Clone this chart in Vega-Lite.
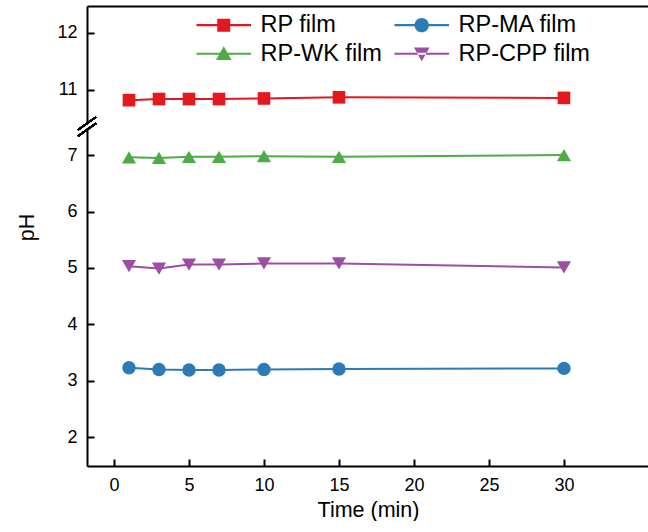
{
  "$schema": "https://vega.github.io/schema/vega-lite/v6.json",
  "background": "white",
  "padding": {"left": 16, "top": 6, "right": 0, "bottom": 0},
  "spacing": 5,
  "bounds": "flush",
  "config": {
    "view": {"stroke": null},
    "font": "Liberation Sans",
    "axis": {
      "grid": false,
      "domainColor": "black",
      "domainWidth": 2,
      "tickColor": "black",
      "tickWidth": 2,
      "tickSize": -7,
      "labelFontSize": 18,
      "labelColor": "black",
      "titleFontSize": 21.5,
      "titleFontWeight": "normal",
      "titleColor": "black"
    }
  },
  "datasets": {
    "ph": [
      {"t": 1, "s": "RP film", "ph": 10.82},
      {"t": 3, "s": "RP film", "ph": 10.84},
      {"t": 5, "s": "RP film", "ph": 10.84},
      {"t": 7, "s": "RP film", "ph": 10.84},
      {"t": 10, "s": "RP film", "ph": 10.85},
      {"t": 15, "s": "RP film", "ph": 10.87},
      {"t": 30, "s": "RP film", "ph": 10.86},
      {"t": 1, "s": "RP-MA film", "ph": 3.23},
      {"t": 3, "s": "RP-MA film", "ph": 3.2},
      {"t": 5, "s": "RP-MA film", "ph": 3.19},
      {"t": 7, "s": "RP-MA film", "ph": 3.19},
      {"t": 10, "s": "RP-MA film", "ph": 3.2},
      {"t": 15, "s": "RP-MA film", "ph": 3.21},
      {"t": 30, "s": "RP-MA film", "ph": 3.22},
      {"t": 1, "s": "RP-WK film", "ph": 6.96},
      {"t": 3, "s": "RP-WK film", "ph": 6.95},
      {"t": 5, "s": "RP-WK film", "ph": 6.97},
      {"t": 7, "s": "RP-WK film", "ph": 6.97},
      {"t": 10, "s": "RP-WK film", "ph": 6.98},
      {"t": 15, "s": "RP-WK film", "ph": 6.97},
      {"t": 30, "s": "RP-WK film", "ph": 7.0},
      {"t": 1, "s": "RP-CPP film", "ph": 5.03},
      {"t": 3, "s": "RP-CPP film", "ph": 4.99},
      {"t": 5, "s": "RP-CPP film", "ph": 5.06},
      {"t": 7, "s": "RP-CPP film", "ph": 5.06},
      {"t": 10, "s": "RP-CPP film", "ph": 5.08},
      {"t": 15, "s": "RP-CPP film", "ph": 5.08},
      {"t": 30, "s": "RP-CPP film", "ph": 5.01}
    ]
  },
  "vconcat": [
    {
      "width": 562,
      "height": 117,
      "data": {"name": "ph"},
      "encoding": {
        "x": {"field": "t", "type": "quantitative", "scale": {"domain": [-1.8, 35.67], "nice": false, "zero": false},
              "axis": {"orient": "top", "labels": false, "ticks": false, "title": null}},
        "y": {"field": "ph", "type": "quantitative", "scale": {"domain": [10.42, 12.47], "nice": false, "zero": false},
              "axis": {"values": [11, 12], "labelPadding": 17, "title": null}}
      },
      "layer": [
        {
          "transform": [{"filter": "datum.s === 'RP film'"}],
          "mark": {"type": "line", "strokeWidth": 2},
          "encoding": {"stroke": {"field": "s", "type": "nominal",
            "scale": {"domain": ["RP-CPP film", "RP-WK film", "RP-MA film", "RP film"], "range": ["#9b4ea3", "#4dac46", "#2c7bb6", "#e3191f"]},
            "legend": null}}
        },
        {
          "transform": [{"filter": "datum.s === 'RP film'"}],
          "mark": {"type": "point", "shape": "square", "filled": true, "size": 160, "color": "#e3191f", "opacity": 1}
        },
        {
          "mark": {"type": "rule", "color": "black", "strokeWidth": 1.5, "clip": false},
          "encoding": {"x": {"datum": -2.4}, "x2": {"datum": -1.2}, "y": {"datum": 10.3}, "y2": {"datum": 10.525}}
        },
        {
          "mark": {"type": "rule", "color": "black", "strokeWidth": 1.5, "clip": false},
          "encoding": {"x": {"datum": -2.4}, "x2": {"datum": -1.2}, "y": {"datum": 10.19}, "y2": {"datum": 10.415}}
        },
        {
          "mark": {"type": "point", "filled": true, "opacity": 1, "clip": true},
          "encoding": {
            "x": {"datum": 100},
            "y": {"datum": 11.5},
            "color": {"field": "s", "type": "nominal",
              "scale": {"domain": ["RP film", "RP-MA film", "RP-WK film", "RP-CPP film"], "range": ["#e3191f", "#2c7bb6", "#4dac46", "#9b4ea3"]},
              "legend": {"orient": "none", "legendX": 125, "legendY": 7, "columns": 2, "direction": "horizontal", "title": null,
                "symbolSize": 169, "symbolStrokeWidth": 0, "symbolOpacity": 1,
                "labelFontSize": 23.5, "labelColor": "black", "labelOffset": 25, "columnPadding": 12, "rowPadding": 4}},
            "shape": {"field": "s", "type": "nominal",
              "scale": {"domain": ["RP film", "RP-MA film", "RP-WK film", "RP-CPP film"],
                "range": [
                  "M-4.2,-0.16H4.2V0.16H-4.2Z M-1,-1H1V1H-1Z",
                  "M-4.2,-0.16H4.2V0.16H-4.2Z M1.1,0A1.1,1.1 0 1,1 -1.1,0A1.1,1.1 0 1,1 1.1,0Z",
                  "M-4.2,-0.16H4.2V0.16H-4.2Z M0,-1.15L1.2,0.95H-1.2Z",
                  "M-4.2,-0.16H4.2V0.16H-4.2Z M0,1.15L1.2,-0.95H-1.2Z"
                ]}}
          }
        }
      ]
    },
    {
      "width": 562,
      "height": 338,
      "data": {"name": "ph"},
      "transform": [{"filter": "datum.s !== 'RP film'"}],
      "encoding": {
        "x": {"field": "t", "type": "quantitative", "scale": {"domain": [-1.8, 35.67], "nice": false, "zero": false},
              "axis": {"values": [0, 5, 10, 15, 20, 25, 30], "labelPadding": 17, "title": "Time (min)", "titlePadding": 5}},
        "y": {"field": "ph", "type": "quantitative", "scale": {"domain": [1.49, 7.48], "nice": false, "zero": false},
              "axis": {"values": [2, 3, 4, 5, 6, 7], "labelPadding": 17, "title": "pH", "titlePadding": 28, "titleY": 99}}
      },
      "layer": [
        {
          "mark": {"type": "line", "strokeWidth": 2},
          "encoding": {"stroke": {"field": "s", "type": "nominal",
            "scale": {"domain": ["RP-CPP film", "RP-WK film", "RP-MA film", "RP film"], "range": ["#9b4ea3", "#4dac46", "#2c7bb6", "#e3191f"]},
            "legend": null}}
        },
        {
          "transform": [{"filter": "datum.s === 'RP-MA film'"}],
          "mark": {"type": "point", "shape": "circle", "filled": true, "size": 180, "color": "#2c7bb6", "opacity": 1}
        },
        {
          "transform": [{"filter": "datum.s === 'RP-WK film'"}],
          "mark": {"type": "point", "shape": "triangle-up", "filled": true, "size": 200, "color": "#4dac46", "opacity": 1}
        },
        {
          "transform": [{"filter": "datum.s === 'RP-CPP film'"}],
          "mark": {"type": "point", "shape": "triangle-down", "filled": true, "size": 200, "color": "#9b4ea3", "opacity": 1}
        }
      ]
    }
  ]
}
